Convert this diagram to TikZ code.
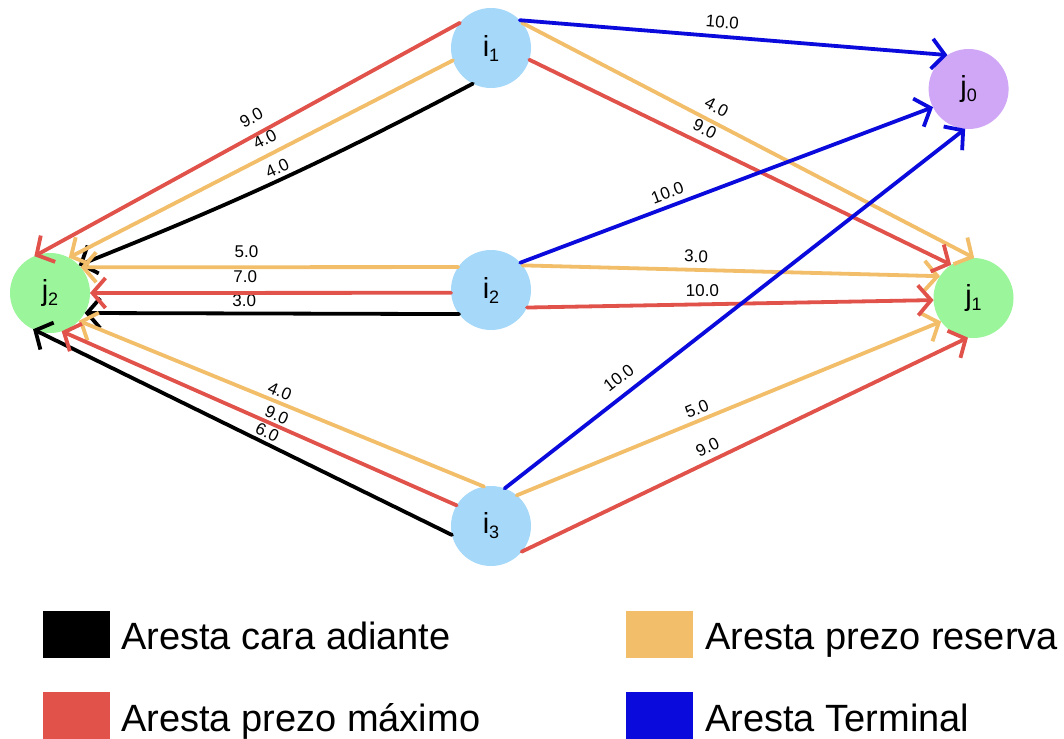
\documentclass[tikz,border=0pt]{standalone}
\usepackage{fontspec}
\setmainfont{Liberation Sans}
\usetikzlibrary{arrows.meta}

\definecolor{nodeI}{HTML}{A6D8FA}
\definecolor{nodeJ}{HTML}{9BF59B}
\definecolor{nodeT}{HTML}{D0A6F6}
\definecolor{cred}{HTML}{E0524A}
\definecolor{corange}{HTML}{F2BE6A}
\definecolor{cblue}{HTML}{0A0ADC}

% vertex label: letter with a lowered index
\newcommand{\vlabel}[2]{#1\raisebox{-5pt}{\fontsize{18}{18}\selectfont #2}}

\tikzset{
  vert/.style={circle, minimum size=80pt, inner sep=0pt, outer sep=0pt,
               font=\fontsize{29}{29}\selectfont},
  inode/.style={vert, fill=nodeI},
  jnode/.style={vert, fill=nodeJ},
  tnode/.style={vert, fill=nodeT},
  edge/.style={line width=3.8pt, line cap=round,
               -{Straight Barb[length=13pt,width=30pt]}},
  wt/.style={font=\fontsize{17}{17}\selectfont, sloped, inner sep=1pt, text=black},
  swatch/.style={rectangle, minimum width=67pt, minimum height=47pt, inner sep=0pt},
  legtext/.style={anchor=base west, inner sep=0pt, font=\fontsize{38}{38}\selectfont},
}

\begin{document}
\begin{tikzpicture}[x=1pt, y=-1pt]
\useasboundingbox[fill=white] (0,0) rectangle (1064,738);

% vertices
\node[inode] (i1) at (491,48)  {\vlabel{i}{1}};
\node[inode] (i2) at (491,290) {\vlabel{i}{2}};
\node[inode] (i3) at (491,526) {\vlabel{i}{3}};
\node[jnode] (j2) at (50,293)  {\vlabel{j}{2}};
\node[jnode] (j1) at (973.5,298) {\vlabel{j}{1}};
\node[tnode] (j0) at (968.6,89) {\vlabel{j}{0}};

% forward edges
\draw[edge, black] (i1.243) to[bend left=3] node[wt, pos=.49, above=3pt] {4.0} (j2.44);
\draw[edge, black] (i2.217) -- node[wt, pos=.574, above=3.5pt] {3.0} (j2.-30);
\draw[edge, black] (i3.193) -- node[wt, pos=.452, above=1.5pt] {6.0} (j2.245);

% reserve price edges
\draw[edge, corange] (i1.198) -- node[wt, pos=.471, above=7pt] {4.0} (j2.62);
\draw[edge, corange] (i2.145) -- node[wt, pos=.561, above=6.5pt] {5.0} (j2.40);
\draw[edge, corange] (i3.100) -- node[wt, pos=.514, above=2pt] {4.0} (j2.-44);
\draw[edge, corange] (i1.39)  -- node[wt, pos=.415, above=6pt] {4.0} (j1.89);
\draw[edge, corange] (i2.38)  -- node[wt, pos=.415, above=4.6pt] {3.0} (j1.147);
\draw[edge, corange] (i3.50)  -- node[wt, pos=.435, above=2.8pt] {5.0} (j1.216);

% maximum price edges
\draw[edge, cred] (i1.141) -- node[wt, pos=.471, above=8pt] {9.0} (j2.113);
\draw[edge, cred] (i2.184) -- node[wt, pos=.57, above=7pt] {7.0} (j2.0);
\draw[edge, cred] (i3.149) -- node[wt, pos=.466, above=1.5pt] {9.0} (j2.-73);
\draw[edge, cred] (i1.-17) -- node[wt, pos=.401, above=5.7pt] {9.0} (j1.124);
\draw[edge, cred] (i2.-26) -- node[wt, pos=.432, above=5pt] {10.0} (j1.183);
\draw[edge, cred] (i3.-40) -- node[wt, pos=.43, above=5pt] {9.0} (j1.262);

% terminal edges
\draw[edge, cblue] (i1.44) -- node[wt, pos=.471, above=5.7pt] {10.0} (j0.122);
\draw[edge, cblue] (i2.43) -- node[wt, pos=.368, above=4.6pt] {10.0} (j0.207);
\draw[edge, cblue] (i3.70) -- node[wt, pos=.27, above=8pt] {10.0} (j0.265);

% legend
\node[swatch, fill=black]   (kf) at (76.5,634.5) {};
\node[swatch, fill=corange] (kr) at (659,634.5) {};
\node[swatch, fill=cred]    (km) at (76.5,715.5) {};
\node[swatch, fill=cblue]   (kt) at (659,715.5) {};
\node[legtext] (tf) at (121,649) {Aresta cara adiante};
\node[legtext] (tr) at (705,649) {Aresta prezo reserva};
\node[legtext] (tm) at (121,731) {Aresta prezo máximo};
\node[legtext] (tt) at (705,731) {Aresta Terminal};
\end{tikzpicture}
\end{document}
